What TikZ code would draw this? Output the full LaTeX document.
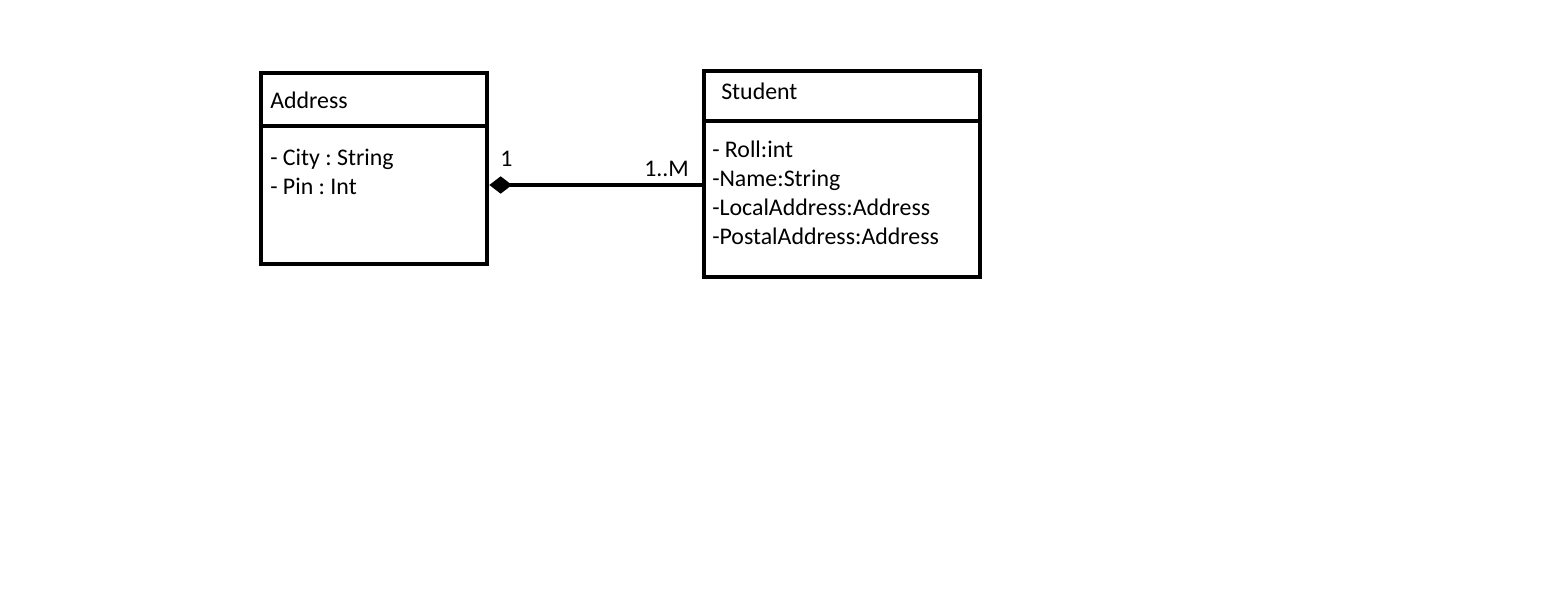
\documentclass[tikz,border=0pt]{standalone}
\usepackage{fontspec}
\setmainfont{Carlito}
\usetikzlibrary{arrows.meta}
\frenchspacing
\tikzset{
    classbox/.style={draw, line width=3.5pt, inner sep=0pt},
    attr/.style={anchor=west, inner sep=0pt, text height=12.5pt, text depth=3.5pt, font=\fontsize{17.9}{21}\selectfont},
    comp/.style={line width=3.5pt, {Diamond[length=17pt,width=13pt]}-}
}
\begin{document}
\begin{tikzpicture}[x=0.75pt,y=-0.75pt]
        \useasboundingbox (0,0) rectangle (1542,595);
        \node[classbox, minimum width=169.5pt, minimum height=143.25pt] (address) at (374,168.5) {};
        \node[classbox, minimum width=207pt, minimum height=154.5pt] (student) at (842,174) {};
        \draw[line width=3.5pt] (address.west |- 0,126) -- (address.east |- 0,126);
        \draw[line width=3.5pt] (student.west |- 0,121) -- (student.east |- 0,121);
        \node[attr] (addrname) at (270,103) {Address};
        \node[attr] (studname) at (721,94) {Student};
        \foreach \t [count=\i] in {- City : String, - Pin : Int} {
            \node[attr] (aa\i) at (270,131+\i*29) {\t};
        }
        \foreach \t [count=\i] in {- Roll:int, -Name:String, -LocalAddress:Address, -PostalAddress:Address} {
            \node[attr] (sa\i) at (712,123+\i*29) {\t};
        }
        \coordinate (cs) at (address.east |- 0,185);
        \coordinate (ce) at (student.west |- 0,185);
        \draw[comp] (cs) -- (ce);
        \node[attr] (one) at (500,161) {1};
        \node[attr] (many) at (644,171) {1..M};
    \end{tikzpicture}
\end{document}
